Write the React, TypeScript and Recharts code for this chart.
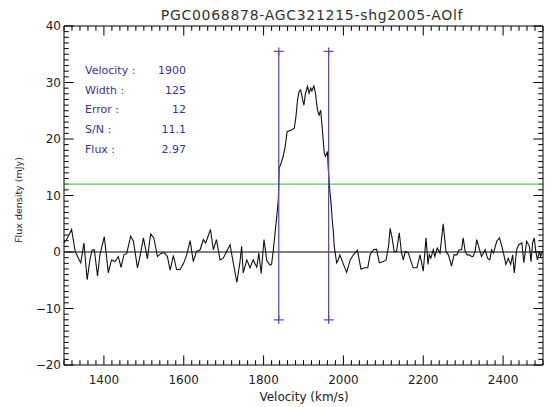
import React from "react";
import {
  ComposedChart,
  Line,
  Scatter,
  XAxis,
  YAxis,
  ReferenceLine,
  Customized,
} from "recharts";

// spectrum: velocity (km/s) and flux density (mJy)
const velocity = [
  1300, 1307, 1313, 1319, 1328, 1336, 1342, 1350, 1358, 1365,
  1370, 1376, 1384, 1390, 1401, 1411, 1419, 1428, 1436, 1443,
  1450, 1457, 1467, 1474, 1484, 1490, 1499, 1509, 1517, 1525,
  1534, 1542, 1551, 1559, 1566, 1574, 1582, 1591, 1599, 1607,
  1616, 1624, 1632, 1641, 1649, 1655, 1667, 1674, 1682, 1691,
  1699, 1716, 1724, 1733, 1741, 1745, 1749, 1758, 1766, 1774,
  1783, 1788, 1794, 1801, 1808, 1816, 1820, 1824, 1833, 1837,
  1839, 1845, 1849, 1854, 1859, 1870, 1877, 1881, 1885, 1889,
  1893, 1898, 1901, 1905, 1910, 1914, 1918, 1921, 1926, 1930,
  1935, 1939, 1943, 1947, 1952, 1955, 1960, 1962,
  1965, 1969, 1972, 1975, 1977, 1983, 1987, 1991, 1998, 2008,
  2017, 2025, 2035, 2044, 2054, 2061, 2067, 2075, 2083, 2090,
  2100, 2107, 2113, 2117, 2122, 2127, 2133, 2140, 2145, 2150,
  2155, 2163, 2168, 2175, 2184, 2192, 2200, 2207, 2212, 2215,
  2219, 2225, 2229, 2235, 2242, 2250, 2253, 2257, 2263, 2271,
  2277, 2284, 2290, 2296, 2300, 2305, 2310, 2315, 2321, 2325,
  2330, 2334, 2340, 2346, 2355, 2361, 2367, 2371, 2376, 2384,
  2391, 2397, 2402, 2407, 2413, 2419, 2424, 2428, 2434, 2439,
  2447, 2452, 2459, 2466, 2470, 2474, 2478, 2482, 2486, 2491,
  2494, 2499,
];

const flux = [
  1.6, 2.3, 3.1, 4.0, 0.1, -1.1, -1.9, 1.6, -4.9, -1.4,
  0.3, 0.4, -4.3, -0.5, 2.7, -3.7, -1.4, -1.7, -0.8, -2.7,
  -0.5, -0.3, 2.8, 1.9, -2.8, -0.9, 2.5, -1.2, 3.2, 2.5,
  -0.8, -0.3, -0.1, -0.8, -3.2, -0.6, -3.1, -3.1, -2.1, -0.6,
  2.0, -1.7, 0.1, 0.4, 2.2, 1.6, 4.0, 0.4, 2.2, -1.4,
  -1.1, 1.3, -1.9, -5.4, -1.7, 1.0, -3.7, -1.4, -2.8, -1.4,
  -2.7, -0.2, -3.8, 2.2, -1.5, -2.3, -2.2, 0.1, 6.3, 9.3,
  14.8, 16.0, 16.9, 18.6, 21.3, 21.6, 21.9, 23.9, 26.9, 28.4,
  28.7, 26.9, 26.0, 28.1, 29.3, 28.1, 29.0, 28.5, 29.4, 28.1,
  25.1, 24.2, 25.1, 21.9, 17.5, 16.9, 17.8, 14.8,
  11.6, 8.7, 5.7, 3.4, 1.0, -1.9, -1.4, -0.5, -1.8, -3.6,
  -1.4, -0.5, 0.3, -3.0, -2.8, -2.8, -0.5, 0.4, 0.5, -1.9,
  -1.7, -1.4, 1.0, 4.2, 2.5, 0.1, 0.1, 3.4, 0.1, -1.4,
  0.1, -0.2, -1.4, -2.8, -2.8, -0.5, -3.4, 2.5, -2.2, -0.5,
  -1.1, 0.4, -0.8, 0.7, -0.2, 5.0, 2.8, 0.1, -0.5, -2.5,
  -0.5, -0.5, 0.4, 0.4, 2.5, 0.1, -0.5, -0.5, -0.8, -0.8,
  0.1, 2.2, 0.7, -0.8, 0.4, -1.1, -1.4, 0.4, -0.2, 1.9,
  2.5, 1.0, -0.5, -2.2, -1.1, -2.2, -0.5, -3.7, 0.4, 1.3,
  1.6, -1.9, 1.9, 1.0, -1.7, 1.6, 2.5, 0.1, -1.4, 0.1,
  -0.8, 0.1,
];

// line edges and the fitted level
const edgeVelocities = [1838, 1963];
const edgeLow = -12;
const edgeHigh = 35.5;
const noiseLevel = 12;

const statLabels = ["Velocity :", "Width :", "Error :", "S/N :", "Flux :"];
const statValues = ["1900", "125", "12", "11.1", "2.97"];

const X_MIN = 1300;
const X_MAX = 2500;
const Y_MIN = -20;
const Y_MAX = 40;
const xMajor = [1400, 1600, 1800, 2000, 2200, 2400];
const yMajor = [-20, -10, 0, 10, 20, 30, 40];
const xMinor = Array.from({ length: 61 }, (_, i) => X_MIN + i * 20);
const yMinor = Array.from({ length: 61 }, (_, i) => Y_MIN + i);

const title = "PGC0068878-AGC321215-shg2005-AOlf";

const FONT = "DejaVu Sans, sans-serif";
const PURPLE = "#5b4db6";
const TEXT_PURPLE = "#3d2f9f";
const GREEN = "#46d846";

const spectrum = velocity.map((v, i) => ({ v, f: flux[i] }));
const markers = edgeVelocities.flatMap((v) => [
  { v, f: edgeHigh },
  { v, f: edgeLow },
]);

// inward tick lengths in axis units (~9.5px major, ~5px minor)
const xTickLen = (v: number) => (xMajor.includes(v) ? 1.7 : 0.85);
const yTickLen = (f: number) => (yMajor.includes(f) ? 24 : 12);

const fmt = (n: number) => (n < 0 ? "\u2212" + Math.abs(n) : String(n));

function BottomLabel({ x, y, payload }: any) {
  return (
    <text x={x} y={y + 19} textAnchor="middle" fontSize={12} fontFamily={FONT} fill="#222">
      {payload.value}
    </text>
  );
}

function LeftLabel({ x, y, payload }: any) {
  return (
    <text x={x - 3} y={y + 4} textAnchor="end" fontSize={12} fontFamily={FONT} fill="#222">
      {fmt(payload.value)}
    </text>
  );
}

function Cross({ cx, cy }: any) {
  return (
    <path
      d={`M${cx - 5},${cy}h10M${cx},${cy - 4}v8`}
      stroke={PURPLE}
      strokeWidth={1.3}
      fill="none"
    />
  );
}

function Texts() {
  return (
    <g fontFamily={FONT}>
      <text x={312} y={20} textAnchor="middle" fontSize={14} letterSpacing={0.7} fill="#333">
        {title}
      </text>
      <text x={304} y={401} textAnchor="middle" fontSize={12} fill="#222">
        Velocity (km/s)
      </text>
      <text
        x={22}
        y={200}
        textAnchor="middle"
        fontSize={9.5}
        fill="#222"
        transform="rotate(-90, 22, 200)"
      >
        Flux density (mJy)
      </text>
      {statLabels.map((s, i) => (
        <text key={s} x={85} y={74 + i * 19.7} fontSize={11} fill={TEXT_PURPLE}>
          {s}
        </text>
      ))}
      {statValues.map((s, i) => (
        <text key={s} x={186} y={74 + i * 19.7} fontSize={11} textAnchor="end" fill={TEXT_PURPLE}>
          {s}
        </text>
      ))}
    </g>
  );
}

export default function App() {
  return (
    <div style={{ position: "absolute", left: 0, top: 0, background: "#fff" }}>
      <ComposedChart
        width={553}
        height={407}
        data={spectrum}
        margin={{ top: 0, right: 0, bottom: 0, left: 0 }}
      >
        <XAxis
          xAxisId="b"
          dataKey="v"
          type="number"
          domain={[X_MIN, X_MAX]}
          ticks={xMajor}
          interval={0}
          height={42}
          tickSize={0}
          tickMargin={0}
          tickLine={false}
          axisLine={{ stroke: "#000" }}
          tick={BottomLabel}
        />
        <XAxis
          xAxisId="t"
          orientation="top"
          dataKey="v"
          type="number"
          domain={[X_MIN, X_MAX]}
          height={26}
          tick={false}
          tickLine={false}
          axisLine={{ stroke: "#000" }}
        />
        <YAxis
          yAxisId="l"
          type="number"
          domain={[Y_MIN, Y_MAX]}
          ticks={yMajor}
          interval={0}
          width={64}
          tickSize={0}
          tickMargin={0}
          tickLine={false}
          axisLine={{ stroke: "#000" }}
          tick={LeftLabel}
        />
        <YAxis
          yAxisId="r"
          orientation="right"
          type="number"
          domain={[Y_MIN, Y_MAX]}
          width={10}
          tick={false}
          tickLine={false}
          axisLine={{ stroke: "#000" }}
        />
        {xMinor.map((v) => (
          <ReferenceLine
            key={`b${v}`}
            xAxisId="b"
            yAxisId="l"
            segment={[
              { x: v, y: Y_MIN },
              { x: v, y: Y_MIN + xTickLen(v) },
            ]}
            stroke="#000"
          />
        ))}
        {xMinor.map((v) => (
          <ReferenceLine
            key={`t${v}`}
            xAxisId="b"
            yAxisId="l"
            segment={[
              { x: v, y: Y_MAX },
              { x: v, y: Y_MAX - xTickLen(v) },
            ]}
            stroke="#000"
          />
        ))}
        {yMinor.map((f) => (
          <ReferenceLine
            key={`l${f}`}
            xAxisId="b"
            yAxisId="l"
            segment={[
              { x: X_MIN, y: f },
              { x: X_MIN + yTickLen(f), y: f },
            ]}
            stroke="#000"
          />
        ))}
        {yMinor.map((f) => (
          <ReferenceLine
            key={`r${f}`}
            xAxisId="b"
            yAxisId="l"
            segment={[
              { x: X_MAX, y: f },
              { x: X_MAX - yTickLen(f), y: f },
            ]}
            stroke="#000"
          />
        ))}
        <ReferenceLine xAxisId="b" yAxisId="l" y={0} stroke="#000" strokeWidth={1} />
        <ReferenceLine xAxisId="b" yAxisId="l" y={noiseLevel} stroke={GREEN} strokeWidth={1.2} />
        <Line
          xAxisId="b"
          yAxisId="l"
          dataKey="f"
          type="linear"
          stroke="#111"
          strokeWidth={1.1}
          dot={false}
          isAnimationActive={false}
        />
        {edgeVelocities.map((v) => (
          <ReferenceLine
            key={v}
            xAxisId="b"
            yAxisId="l"
            segment={[
              { x: v, y: edgeLow },
              { x: v, y: edgeHigh },
            ]}
            stroke={PURPLE}
            strokeWidth={1.3}
          />
        ))}
        <Scatter xAxisId="b" yAxisId="l" data={markers} dataKey="f" shape={Cross} isAnimationActive={false} />
        <Customized component={Texts} />
      </ComposedChart>
    </div>
  );
}
